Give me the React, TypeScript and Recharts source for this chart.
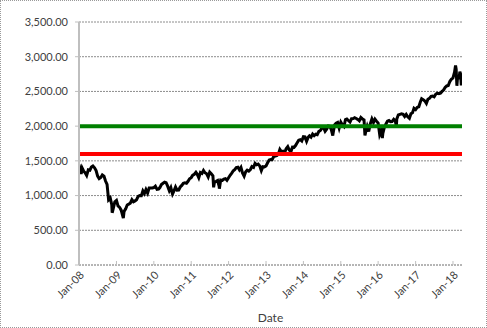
import React from 'react';
import { LineChart, Line, XAxis, YAxis, CartesianGrid, ReferenceLine, Label } from 'recharts';

// S&P 500 closes, sampled on the 1st and 16th of every month (Jan..Dec)
const years = [2008, 2009, 2010, 2011, 2012, 2013, 2014, 2015, 2016, 2017, 2018];

const sp2008 = [1447, 1350, 1395, 1350, 1330, 1290, 1370, 1365, 1410, 1425, 1400, 1360, 1280, 1245, 1260, 1298, 1280, 1210, 1160, 940, 966, 870, 816, 910];
const sp2009 = [931, 850, 830, 790, 720, 770, 810, 865, 877, 890, 940, 911, 923, 940, 990, 1000, 998, 1068, 1030, 1087, 1036, 1109, 1108, 1110];
const sp2010 = [1115, 1136, 1089, 1094, 1115, 1159, 1178, 1192, 1186, 1136, 1070, 1115, 1027, 1065, 1125, 1079, 1080, 1124, 1146, 1176, 1184, 1178, 1206, 1242];
const sp2011 = [1258, 1293, 1307, 1336, 1306, 1257, 1332, 1319, 1361, 1329, 1314, 1268, 1339, 1316, 1286, 1192, 1204, 1216, 1131, 1224, 1218, 1237, 1244, 1219];
const sp2012 = [1257, 1293, 1324, 1358, 1374, 1404, 1408, 1370, 1405, 1325, 1278, 1342, 1365, 1353, 1375, 1418, 1406, 1465, 1444, 1454, 1427, 1359, 1416, 1413];
const sp2013 = [1426, 1472, 1513, 1519, 1518, 1560, 1570, 1574, 1597, 1666, 1631, 1639, 1614, 1676, 1706, 1655, 1633, 1697, 1695, 1721, 1761, 1798, 1806, 1786];
const sp2014 = [1848, 1845, 1782, 1838, 1859, 1841, 1885, 1862, 1883, 1877, 1924, 1937, 1973, 1981, 1925, 1955, 2003, 1998, 1946, 1880, 2018, 2041, 2053, 1972];
const sp2015 = [2058, 2019, 1995, 2096, 2104, 2081, 2059, 2106, 2108, 2122, 2111, 2096, 2077, 2124, 2103, 2091, 1913, 1996, 1923, 2033, 2104, 2053, 2102, 2073];
const sp2016 = [2044, 1880, 1940, 1895, 1978, 2027, 2072, 2081, 2065, 2066, 2099, 2077, 2103, 2161, 2170, 2178, 2170, 2139, 2168, 2133, 2111, 2177, 2191, 2258];
const sp2017 = [2238, 2270, 2279, 2347, 2395, 2381, 2362, 2328, 2388, 2400, 2430, 2433, 2423, 2459, 2476, 2468, 2476, 2500, 2519, 2557, 2579, 2585, 2642, 2675];
const sp2018 = [2695, 2776, 2822, 2732, 2678, 2752];
const closesByYear = [sp2008, sp2009, sp2010, sp2011, sp2012, sp2013, sp2014, sp2015, sp2016, sp2017, sp2018];

// a few extremes between the regular samples
const extraDates = ['2008-01-22', '2008-11-20', '2009-03-09', '2010-07-02', '2011-08-08', '2011-10-03', '2012-06-01', '2014-10-15', '2015-08-25', '2016-02-11', '2016-06-27', '2018-01-26', '2018-02-08', '2018-03-09', '2018-03-23', '2018-03-28'];
const extraCloses = [1310, 752, 677, 1022, 1119, 1099, 1278, 1862, 1867, 1829, 2000, 2872, 2581, 2786, 2588, 2640];

const yTicks = [0, 500, 1000, 1500, 2000, 2500, 3000, 3500];
const xTickYears = [2008, 2009, 2010, 2011, 2012, 2013, 2014, 2015, 2016, 2017, 2018];
const monthNames = ['Jan', 'Feb', 'Mar', 'Apr', 'May', 'Jun', 'Jul', 'Aug', 'Sep', 'Oct', 'Nov', 'Dec'];

const greenLevel = 2000;
const redLevel = 1600;

const data: { t: number; close: number }[] = [];
years.forEach((yr, yi) => {
  closesByYear[yi].forEach((v, i) => {
    data.push({ t: Date.UTC(yr, Math.floor(i / 2), i % 2 ? 16 : 1), close: v });
  });
});
extraDates.forEach((d, i) => data.push({ t: Date.parse(d), close: extraCloses[i] }));
data.sort((a, b) => a.t - b.t);

const xTicks = xTickYears.map((y) => Date.UTC(y, 0, 1));
const xDomain = [Date.UTC(2008, 0, 1), Date.UTC(2018, 2, 30)];

const fmtDate = (t: number) => {
  const d = new Date(t);
  return monthNames[d.getUTCMonth()] + '-' + String(d.getUTCFullYear()).slice(2);
};
const fmtNum = (v: number) => v.toLocaleString('en-US', { minimumFractionDigits: 2, maximumFractionDigits: 2 });

const font = 'Lato, "Open Sans", sans-serif';

const DateTick = (props: any) => {
  const { x, y, payload } = props;
  return (
    <g>
      <line x1={x} y1={y - 4} x2={x} y2={y} stroke="#bfbfbf" />
      <text
        transform={`translate(${x + 3},${y + 8}) rotate(-45)`}
        textAnchor="end"
        dy="0.35em"
        fontSize={11}
        fontFamily={font}
        fill="#404040"
      >
        {fmtDate(payload.value)}
      </text>
    </g>
  );
};

export default function App() {
  return (
    <div style={{ position: 'absolute', left: 0, top: 0, width: 487, height: 328, background: '#fff' }}>
      <LineChart width={487} height={328} data={data} margin={{ top: 22, right: 25, left: 0, bottom: 0 }}>
        <CartesianGrid vertical={false} stroke="#8c8c8c" strokeDasharray="2 1" />
        <XAxis
          dataKey="t"
          type="number"
          scale="linear"
          domain={xDomain}
          ticks={xTicks}
          allowDataOverflow
          height={63}
          tickSize={0}
          tickMargin={0}
          tickLine={false}
          axisLine={{ stroke: '#a6a6a6', strokeDasharray: '2 1' }}
          tick={<DateTick />}
          interval={0}
        >
          <Label value="Date" position="insideBottom" offset={6} fontSize={12} fontFamily={font} fill="#404040" />
        </XAxis>
        <YAxis
          type="number"
          domain={[0, 3500]}
          ticks={yTicks}
          width={79}
          tickSize={4}
          tickMargin={7}
          tickFormatter={fmtNum}
          axisLine={{ stroke: '#bfbfbf', strokeWidth: 2 }}
          tickLine={{ stroke: '#bfbfbf' }}
          tick={{ fontSize: 11, fontFamily: font, fill: '#404040' }}
          interval={0}
        />
        <Line
          dataKey="close"
          type="linear"
          stroke="#000"
          strokeWidth={3}
          dot={false}
          isAnimationActive={false}
        />
        <ReferenceLine y={redLevel} stroke="#ff0000" strokeWidth={4} />
        <ReferenceLine y={greenLevel} stroke="#008000" strokeWidth={4} />
      </LineChart>
      <div
        style={{
          position: 'absolute',
          left: 0,
          top: 0,
          width: 487,
          height: 328,
          boxSizing: 'border-box',
          border: '1px dotted #9a9a9a',
          pointerEvents: 'none',
        }}
      />
    </div>
  );
}
